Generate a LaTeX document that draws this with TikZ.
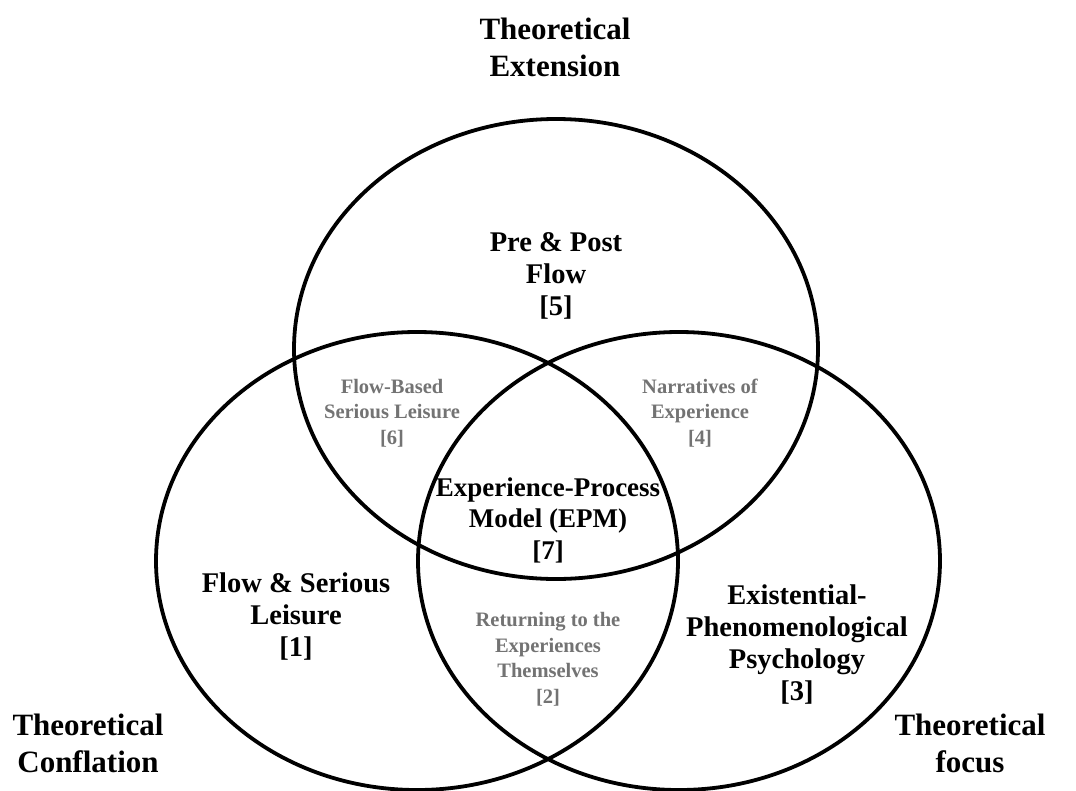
\documentclass[tikz,border=0pt]{standalone}
\usepackage{fontspec}
\setmainfont{Liberation Serif}
\begin{document}
\begin{tikzpicture}[x=1pt,y=-1pt,
  ring/.style={draw=black,line width=3.8pt},
  corner/.style={font=\fontsize{31}{37}\selectfont\bfseries,align=center,inner sep=0pt},
  mainlab/.style={font=\fontsize{28.5}{32}\selectfont\bfseries,align=center,inner sep=0pt},
  epmlab/.style={font=\fontsize{27}{31.5}\selectfont\bfseries,align=center,inner sep=0pt},
  overlap/.style={font=\fontsize{20.5}{25.5}\selectfont\bfseries,text=black!55,align=center,inner sep=0pt}]
\useasboundingbox (0,0) rectangle (1076,790);
\fill[white] (0,0) rectangle (1076,790);

% the three sets
\draw[ring] (556,349) ellipse [x radius=262, y radius=230];
\draw[ring] (417,561) ellipse [x radius=261, y radius=229];
\draw[ring] (679,561) ellipse [x radius=261, y radius=229];

% outer captions
\node[corner] (ext) at (555,47) {Theoretical\\Extension};
\node[corner] (conf) at (88,743) {Theoretical\\Conflation};
\node[corner] (foc) at (970,743) {Theoretical\\focus};

% single-set regions
\node[mainlab] (pre) at (556,276) {Pre \& Post\\Flow\\{}[5]};
\node[mainlab] (fsl) at (296,617) {Flow \& Serious\\Leisure\\{}[1]};
\node[mainlab] (epp) at (797,645) {Existential-\\Phenomenological\\Psychology\\{}[3]};

% pairwise overlaps
\node[overlap] (fbs) at (392,413) {Flow-Based\\Serious Leisure\\{}[6]};
\node[overlap] (noe) at (700,413) {Narratives of\\Experience\\{}[4]};
\node[overlap] (ret) at (548,659) {Returning to the\\Experiences\\Themselves\\{}[2]};

% centre
\node[epmlab] (epm) at (548,520) {Experience-Process\\Model (EPM)\\{}[7]};
\end{tikzpicture}
\end{document}
